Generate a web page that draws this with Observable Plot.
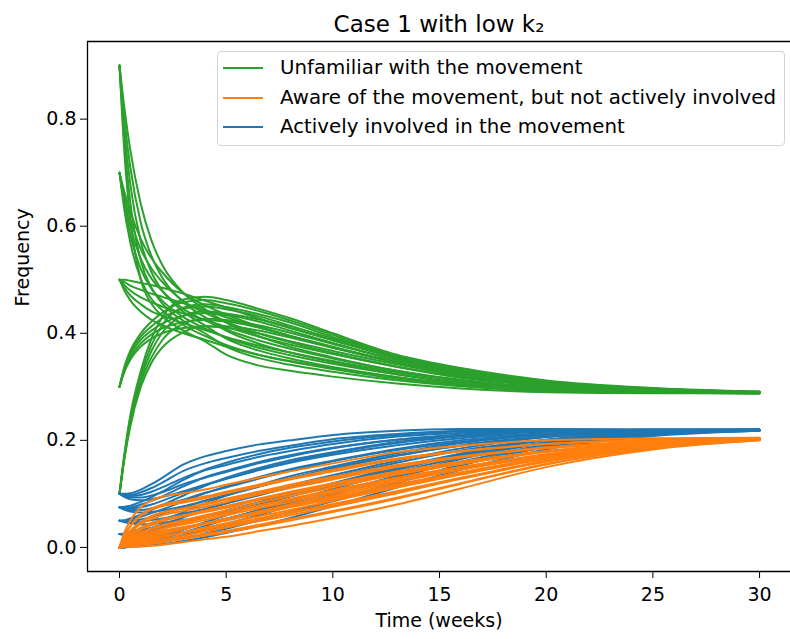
<!DOCTYPE html>
<html><head><meta charset="utf-8">
<script src="https://cdn.jsdelivr.net/npm/d3@7"></script>
<script src="https://cdn.jsdelivr.net/npm/@observablehq/plot@0.6"></script>
<style>
body{margin:0;background:#fff;font-family:"DejaVu Sans",sans-serif;}
#wrap{position:relative;width:790px;height:639px;overflow:hidden;background:#fff;}
#legend{position:absolute;left:217px;top:51px;width:568px;height:95px;box-sizing:border-box;border:1px solid #d4d4d4;border-radius:4px;background:rgba(255,255,255,0.85);}
.row{position:absolute;left:5px;height:24px;line-height:24px;font-size:19.8px;color:#000;white-space:nowrap;}
.sw{position:absolute;left:0;top:11px;width:40px;height:0;border-top:2px solid;}
.lb{position:absolute;left:57px;top:0;}
</style></head>
<body><div id="wrap"></div>
<script>
// time points (weeks)
const time = [0, 0.25, 0.5, 1, 1.5, 2, 3, 4, 5, 6.5, 8, 10, 13, 16, 20, 25, 30];
// initial frequency of the unfamiliar group (outer index) and of the involved group (inner index)
const unfamiliarStart = [0.9, 0.7, 0.5, 0.3, 0.1];
const involvedStart = [0.1, 0.075, 0.05, 0.025, 0];

// unfamiliar[a][b]
const unfamiliar = [
 [[0.9,0.725,0.615,0.5,0.455,0.432,0.405,0.385,0.36,0.34,0.33,0.319,0.306,0.297,0.29,0.288,0.288],
  [0.9,0.747,0.647,0.535,0.485,0.456,0.423,0.4,0.375,0.354,0.341,0.328,0.312,0.301,0.292,0.289,0.288],
  [0.9,0.77,0.68,0.571,0.514,0.48,0.44,0.415,0.39,0.368,0.353,0.337,0.318,0.305,0.294,0.29,0.288],
  [0.9,0.792,0.712,0.606,0.544,0.504,0.458,0.43,0.405,0.381,0.364,0.346,0.324,0.308,0.296,0.29,0.288],
  [0.9,0.814,0.744,0.641,0.573,0.528,0.475,0.445,0.42,0.395,0.375,0.355,0.33,0.312,0.298,0.291,0.288]],
 [[0.7,0.625,0.571,0.501,0.464,0.443,0.415,0.395,0.378,0.36,0.347,0.333,0.315,0.302,0.293,0.289,0.288],
  [0.7,0.634,0.585,0.52,0.483,0.461,0.43,0.409,0.392,0.373,0.359,0.343,0.323,0.307,0.296,0.29,0.289],
  [0.7,0.643,0.6,0.539,0.502,0.479,0.445,0.424,0.407,0.387,0.371,0.353,0.33,0.313,0.299,0.292,0.289],
  [0.7,0.652,0.614,0.557,0.521,0.496,0.46,0.438,0.421,0.4,0.383,0.363,0.338,0.318,0.302,0.293,0.29],
  [0.7,0.661,0.628,0.576,0.54,0.514,0.475,0.452,0.435,0.413,0.395,0.373,0.345,0.323,0.305,0.294,0.29]],
 [[0.5,0.478,0.462,0.44,0.425,0.415,0.4,0.388,0.375,0.36,0.348,0.335,0.318,0.304,0.294,0.289,0.288],
  [0.5,0.484,0.471,0.454,0.441,0.433,0.419,0.406,0.393,0.377,0.364,0.348,0.327,0.311,0.298,0.291,0.289],
  [0.5,0.489,0.48,0.467,0.458,0.45,0.437,0.425,0.412,0.394,0.379,0.361,0.337,0.317,0.302,0.292,0.289],
  [0.5,0.495,0.489,0.481,0.474,0.468,0.456,0.443,0.43,0.411,0.395,0.374,0.346,0.324,0.305,0.294,0.29],
  [0.5,0.5,0.498,0.494,0.49,0.485,0.474,0.461,0.448,0.428,0.41,0.387,0.355,0.33,0.309,0.295,0.29]],
 [[0.3,0.33,0.35,0.375,0.39,0.4,0.41,0.413,0.41,0.4,0.385,0.367,0.342,0.32,0.302,0.292,0.289],
  [0.3,0.333,0.354,0.381,0.398,0.409,0.421,0.425,0.422,0.411,0.395,0.375,0.346,0.323,0.304,0.293,0.289],
  [0.3,0.335,0.359,0.388,0.405,0.418,0.433,0.438,0.434,0.422,0.405,0.382,0.35,0.326,0.306,0.295,0.29],
  [0.3,0.338,0.363,0.394,0.413,0.428,0.446,0.45,0.445,0.432,0.414,0.39,0.353,0.329,0.308,0.296,0.29],
  [0.3,0.34,0.367,0.4,0.422,0.438,0.458,0.462,0.456,0.442,0.424,0.397,0.357,0.332,0.31,0.297,0.29]],
 [[0.1,0.17,0.225,0.3,0.345,0.373,0.402,0.413,0.413,0.405,0.392,0.373,0.347,0.324,0.304,0.293,0.289],
  [0.1,0.173,0.23,0.308,0.355,0.387,0.418,0.427,0.425,0.415,0.401,0.38,0.35,0.327,0.306,0.294,0.29],
  [0.1,0.175,0.235,0.315,0.367,0.401,0.433,0.441,0.437,0.426,0.41,0.387,0.354,0.33,0.308,0.296,0.29],
  [0.1,0.178,0.24,0.323,0.378,0.415,0.448,0.454,0.449,0.436,0.42,0.393,0.357,0.332,0.31,0.297,0.291],
  [0.1,0.18,0.245,0.33,0.39,0.43,0.463,0.468,0.462,0.446,0.428,0.4,0.36,0.335,0.312,0.298,0.291]]
];

// aware[b][a]
const aware = [
 [[0,0.03,0.05,0.075,0.088,0.095,0.101,0.108,0.117,0.13,0.142,0.157,0.178,0.19,0.2,0.204,0.205],
  [0,0.024,0.04,0.061,0.073,0.08,0.087,0.095,0.104,0.117,0.129,0.145,0.166,0.18,0.193,0.201,0.204],
  [0,0.018,0.03,0.047,0.058,0.065,0.073,0.082,0.091,0.104,0.117,0.132,0.154,0.17,0.186,0.198,0.204],
  [0,0.011,0.02,0.033,0.042,0.049,0.059,0.068,0.077,0.091,0.104,0.12,0.142,0.16,0.179,0.195,0.203],
  [0,0.005,0.01,0.019,0.027,0.034,0.045,0.055,0.064,0.078,0.091,0.107,0.13,0.15,0.172,0.192,0.202]],
 [[0,0.023,0.039,0.059,0.071,0.077,0.084,0.092,0.101,0.114,0.127,0.142,0.164,0.179,0.193,0.201,0.204],
  [0,0.018,0.031,0.048,0.059,0.065,0.072,0.08,0.089,0.102,0.115,0.13,0.153,0.169,0.187,0.198,0.204],
  [0,0.014,0.024,0.037,0.046,0.052,0.06,0.069,0.077,0.09,0.103,0.118,0.141,0.16,0.18,0.196,0.203],
  [0,0.009,0.016,0.026,0.034,0.04,0.048,0.057,0.065,0.078,0.09,0.106,0.13,0.15,0.174,0.193,0.203],
  [0,0.004,0.008,0.015,0.021,0.027,0.036,0.045,0.053,0.066,0.078,0.094,0.118,0.14,0.167,0.19,0.202]],
 [[0,0.017,0.028,0.044,0.053,0.06,0.068,0.076,0.085,0.099,0.111,0.127,0.15,0.168,0.185,0.197,0.203],
  [0,0.014,0.023,0.036,0.044,0.05,0.058,0.066,0.074,0.088,0.1,0.116,0.139,0.159,0.179,0.195,0.203],
  [0,0.01,0.017,0.028,0.034,0.04,0.048,0.056,0.064,0.077,0.089,0.104,0.128,0.149,0.173,0.193,0.202],
  [0,0.007,0.012,0.019,0.025,0.03,0.038,0.045,0.053,0.065,0.077,0.093,0.116,0.14,0.167,0.19,0.202],
  [0,0.003,0.006,0.011,0.015,0.02,0.028,0.035,0.042,0.054,0.066,0.081,0.105,0.13,0.161,0.188,0.201]],
 [[0,0.01,0.017,0.028,0.036,0.042,0.051,0.06,0.069,0.083,0.096,0.112,0.136,0.156,0.178,0.194,0.202],
  [0,0.008,0.014,0.023,0.029,0.035,0.043,0.051,0.06,0.073,0.085,0.101,0.125,0.147,0.173,0.192,0.202],
  [0,0.006,0.01,0.017,0.023,0.027,0.035,0.043,0.05,0.063,0.075,0.09,0.115,0.138,0.167,0.19,0.202],
  [0,0.004,0.007,0.012,0.016,0.02,0.027,0.034,0.041,0.052,0.064,0.079,0.104,0.129,0.162,0.187,0.201],
  [0,0.002,0.003,0.006,0.009,0.012,0.019,0.025,0.031,0.042,0.053,0.068,0.093,0.12,0.156,0.185,0.201]],
 [[0,0.003,0.006,0.012,0.018,0.024,0.034,0.044,0.053,0.067,0.08,0.097,0.122,0.145,0.17,0.19,0.201],
  [0,0.003,0.005,0.01,0.014,0.019,0.028,0.037,0.045,0.058,0.07,0.087,0.112,0.136,0.165,0.188,0.201],
  [0,0.002,0.004,0.007,0.011,0.015,0.022,0.03,0.037,0.049,0.06,0.076,0.101,0.128,0.16,0.187,0.201],
  [0,0.002,0.002,0.005,0.007,0.01,0.016,0.022,0.028,0.039,0.05,0.066,0.091,0.119,0.155,0.185,0.2],
  [0,0.001,0.001,0.002,0.003,0.005,0.01,0.015,0.02,0.03,0.04,0.055,0.08,0.11,0.15,0.183,0.2]]
];

// involved[b][a]
const involved = [
 [[0.1,0.1,0.101,0.108,0.118,0.13,0.155,0.17,0.18,0.192,0.2,0.21,0.218,0.221,0.221,0.22,0.22],
  [0.1,0.099,0.098,0.103,0.111,0.121,0.143,0.157,0.167,0.18,0.19,0.202,0.212,0.218,0.22,0.22,0.22],
  [0.1,0.097,0.096,0.098,0.104,0.112,0.13,0.144,0.154,0.169,0.18,0.193,0.207,0.214,0.219,0.22,0.22],
  [0.1,0.096,0.093,0.093,0.097,0.103,0.118,0.13,0.141,0.157,0.17,0.185,0.201,0.211,0.217,0.22,0.22],
  [0.1,0.094,0.09,0.088,0.09,0.094,0.105,0.117,0.128,0.145,0.16,0.176,0.195,0.207,0.216,0.22,0.22]],
 [[0.075,0.076,0.078,0.085,0.094,0.104,0.126,0.145,0.158,0.174,0.186,0.198,0.21,0.217,0.22,0.22,0.22],
  [0.075,0.075,0.075,0.08,0.087,0.095,0.114,0.131,0.143,0.159,0.172,0.186,0.201,0.21,0.217,0.219,0.22],
  [0.075,0.073,0.073,0.075,0.08,0.087,0.102,0.116,0.128,0.144,0.158,0.173,0.191,0.204,0.213,0.218,0.22],
  [0.075,0.072,0.07,0.07,0.073,0.078,0.089,0.102,0.112,0.128,0.143,0.161,0.182,0.197,0.21,0.217,0.219],
  [0.075,0.07,0.067,0.065,0.066,0.069,0.077,0.087,0.097,0.113,0.129,0.148,0.172,0.19,0.206,0.216,0.219]],
 [[0.05,0.051,0.054,0.061,0.07,0.079,0.097,0.115,0.13,0.148,0.163,0.178,0.197,0.209,0.217,0.22,0.22],
  [0.05,0.05,0.052,0.057,0.064,0.071,0.086,0.101,0.114,0.131,0.146,0.162,0.184,0.2,0.212,0.218,0.22],
  [0.05,0.049,0.05,0.052,0.057,0.063,0.074,0.087,0.098,0.114,0.129,0.147,0.171,0.191,0.207,0.216,0.22],
  [0.05,0.048,0.047,0.048,0.051,0.054,0.063,0.072,0.082,0.097,0.112,0.131,0.158,0.181,0.201,0.214,0.219],
  [0.05,0.047,0.045,0.043,0.044,0.046,0.051,0.058,0.066,0.08,0.095,0.115,0.145,0.172,0.196,0.212,0.219]],
 [[0.025,0.026,0.029,0.035,0.042,0.05,0.066,0.082,0.097,0.116,0.133,0.151,0.176,0.195,0.211,0.218,0.22],
  [0.025,0.025,0.027,0.032,0.037,0.043,0.056,0.07,0.083,0.1,0.116,0.135,0.162,0.185,0.206,0.216,0.22],
  [0.025,0.025,0.026,0.028,0.032,0.037,0.047,0.058,0.069,0.084,0.1,0.119,0.148,0.175,0.201,0.214,0.219],
  [0.025,0.024,0.024,0.025,0.027,0.03,0.037,0.045,0.054,0.068,0.083,0.102,0.134,0.165,0.195,0.212,0.219],
  [0.025,0.023,0.022,0.021,0.022,0.023,0.027,0.033,0.04,0.052,0.066,0.086,0.12,0.155,0.19,0.21,0.218]],
 [[0,0.001,0.003,0.008,0.014,0.02,0.033,0.047,0.06,0.08,0.098,0.12,0.15,0.175,0.2,0.214,0.219],
  [0,0.001,0.003,0.007,0.012,0.017,0.028,0.04,0.052,0.07,0.087,0.109,0.141,0.168,0.196,0.213,0.219],
  [0,0.001,0.002,0.005,0.009,0.013,0.023,0.033,0.044,0.06,0.077,0.099,0.131,0.16,0.192,0.211,0.219],
  [0,0,0.002,0.004,0.007,0.01,0.017,0.026,0.035,0.05,0.066,0.088,0.122,0.153,0.187,0.21,0.218],
  [0,0,0.001,0.002,0.004,0.006,0.012,0.019,0.027,0.04,0.055,0.077,0.112,0.145,0.183,0.208,0.218]]
];

const seriesNames = ["Unfamiliar with the movement", "Aware of the movement, but not actively involved", "Actively involved in the movement"];
const seriesColors = ["#2ca02c", "#ff7f0e", "#1f77b4"];
const xTicks = [0, 5, 10, 15, 20, 25, 30];
const yTicks = [0, 0.2, 0.4, 0.6, 0.8];
const titleText = "Case 1 with low k\u2082";
const xLabel = "Time (weeks)";
const yLabel = "Frequency";

// long table; drawing order: all unfamiliar runs, then involved, then aware
const rows = [];
let id = 0;
[0, 2, 1].forEach(s => {
  unfamiliarStart.forEach((u, a) => {
    involvedStart.forEach((i0, b) => {
      const vals = s === 0 ? unfamiliar[a][b] : s === 1 ? aware[b][a] : involved[b][a];
      vals.forEach((v, j) => rows.push({t: time[j], v, series: seriesNames[s], id}));
      id++;
    });
  });
});

const font = "DejaVu Sans";
const chart = Plot.plot({
  width: 790, height: 639,
  marginLeft: 87, marginRight: 0, marginTop: 41, marginBottom: 68,
  style: {fontFamily: font, fontSize: "19px", color: "#000", background: "white", overflow: "visible"},
  x: {domain: [-1.5, 31.45]},
  y: {domain: [-0.045, 0.945]},
  color: {domain: seriesNames, range: seriesColors},
  marks: [
    Plot.line(rows, {x: "t", y: "v", z: "id", stroke: "series", strokeWidth: 2, curve: "monotone-x"}),
    Plot.axisX({ticks: xTicks, tickSize: 7, tickPadding: 9, label: null, fontSize: 19, tickFormat: d => String(d)}),
    Plot.axisY({ticks: yTicks, tickSize: 7, tickPadding: 4, label: null, fontSize: 19, tickFormat: d3.format(".1f")}),
    Plot.ruleX([-1.5], {stroke: "#000", strokeWidth: 1.3}),
    Plot.ruleY([-0.045, 0.945], {stroke: "#000", strokeWidth: 1.3}),
    Plot.text([titleText], {text: d => d, frameAnchor: "top", dy: -26, fontSize: 23, fill: "#000"}),
    Plot.text([xLabel], {text: d => d, frameAnchor: "bottom", dy: 55, fontSize: 19, fill: "#000"}),
    Plot.text([yLabel], {text: d => d, frameAnchor: "left", dx: -65, rotate: -90, fontSize: 19, fill: "#000"})
  ]
});
const wrap = document.getElementById("wrap");
wrap.appendChild(chart);

// legend
const leg = document.createElement("div");
leg.id = "legend";
seriesNames.forEach((name, i) => {
  const r = document.createElement("div");
  r.className = "row";
  r.style.top = (4 + i * 29.5) + "px";
  const sw = document.createElement("span");
  sw.className = "sw";
  sw.style.borderColor = seriesColors[i];
  const lb = document.createElement("span");
  lb.className = "lb";
  lb.textContent = name;
  r.appendChild(sw); r.appendChild(lb);
  leg.appendChild(r);
});
wrap.appendChild(leg);
</script>
</body></html>
